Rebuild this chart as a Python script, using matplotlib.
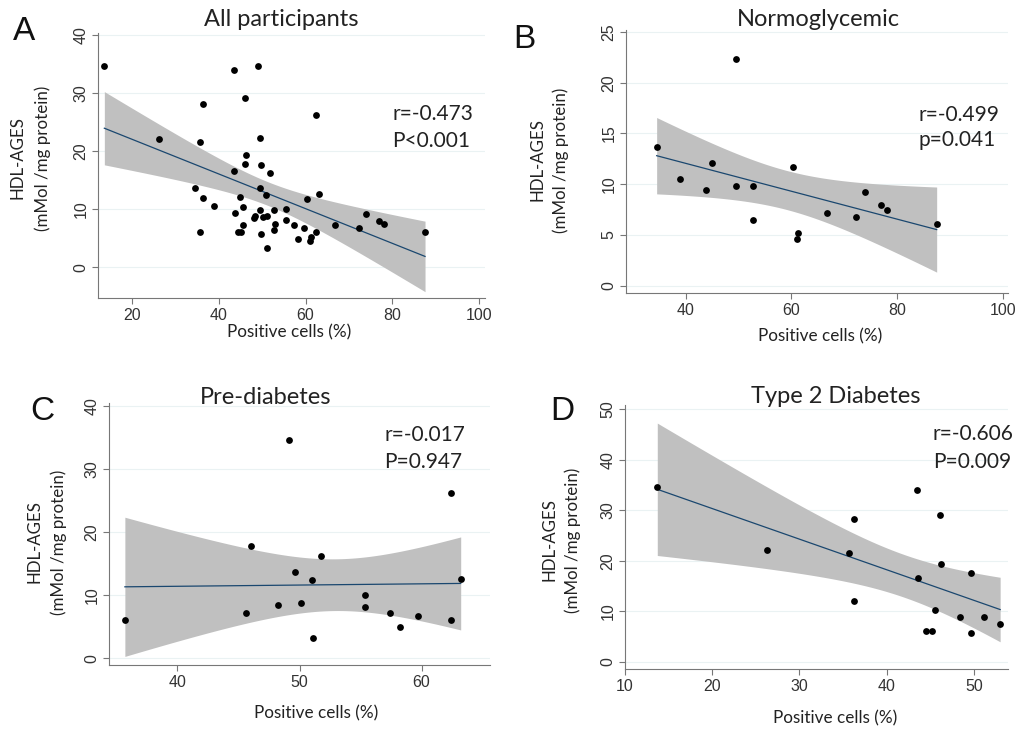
import numpy as np
import matplotlib
matplotlib.use('Agg')
import matplotlib.pyplot as plt

# ---- data (Positive cells %, HDL-AGES) ----
normo_x = [34.5, 39.0, 43.8, 45.0, 49.6, 49.6, 52.8, 52.7, 60.3, 61.3, 61.1,
           66.7, 72.3, 73.9, 76.9, 78.1, 87.5]
normo_y = [13.7, 10.5, 9.4, 12.1, 22.3, 9.8, 9.8, 6.45, 11.7, 5.2, 4.6,
           7.2, 6.75, 9.2, 8.0, 7.5, 6.1]

pre_x = [35.7, 45.6, 46.0, 48.2, 49.1, 49.6, 50.1, 51.0, 51.1, 51.8, 55.4,
         55.4, 57.4, 58.2, 59.7, 62.4, 62.4, 63.2]
pre_y = [6.0, 7.25, 17.8, 8.5, 34.6, 13.7, 8.7, 12.4, 3.3, 16.2, 10.0,
         8.1, 7.25, 4.9, 6.7, 26.2, 6.0, 12.6]

t2d_x = [13.7, 26.3, 35.7, 36.3, 36.3, 43.5, 43.6, 44.5, 45.2, 45.5, 46.1,
         46.2, 48.4, 49.7, 49.7, 51.2, 53.0]
t2d_y = [34.7, 22.1, 21.5, 28.2, 12.0, 34.0, 16.6, 6.1, 6.1, 10.3, 29.1,
         19.3, 8.8, 17.6, 5.7, 8.8, 7.5]

# all participants = the three groups together
all_x = normo_x + pre_x + t2d_x
all_y = normo_y + pre_y + t2d_y

titles = ["All participants", "Normoglycemic", "Pre-diabetes", "Type 2 Diabetes"]
letters = ["A", "B", "C", "D"]
stats = [("r=-0.473", "P<0.001"), ("r=-0.499", "p=0.041"),
         ("r=-0.017", "P=0.947"), ("r=-0.606", "P=0.009")]
yticks = [[0, 10, 20, 30, 40], [0, 5, 10, 15, 20, 25],
          [0, 10, 20, 30, 40], [0, 10, 20, 30, 40, 50]]
xticks = [[20, 40, 60, 80, 100], [40, 60, 80, 100],
          [40, 50, 60], [10, 20, 30, 40, 50]]

W, H = 1021, 732
TXT = ['Lato', 'DejaVu Sans']
TCK = ['Liberation Sans', 'DejaVu Sans']
BAND = '#c0c0c0'
LINE = '#1a476f'


def t975(df):
    # Cornish-Fisher expansion of the t quantile
    z = 1.959964
    g1 = (z**3 + z) / 4
    g2 = (5*z**5 + 16*z**3 + 3*z) / 96
    g3 = (3*z**7 + 19*z**5 + 17*z**3 - 15*z) / 384
    return z + g1/df + g2/df**2 + g3/df**3


def fit_ci(x, y):
    '''
    linear fit with 95% CI of the mean (like Stata lfitci)
    '''
    x = np.asarray(x, float)
    y = np.asarray(y, float)
    n = len(x)
    b, a = np.polyfit(x, y, 1)
    res = y - (a + b*x)
    s = np.sqrt(np.sum(res**2) / (n - 2))
    sxx = np.sum((x - x.mean())**2)
    xs = np.linspace(x.min(), x.max(), 200)
    yh = a + b*xs
    se = s * np.sqrt(1.0/n + (xs - x.mean())**2 / sxx)
    t = t975(n - 2)
    return xs, yh, yh - t*se, yh + t*se


def fig_box(l, r, t, b):
    return [l/W, 1 - b/H, (r - l)/W, (b - t)/H]


def fx(px):
    return px / W


def fy(py):
    return 1 - py / H


fig = plt.figure(figsize=(W/100, H/100), dpi=100)

boxes = [fig_box(98, 485, 33, 298), fig_box(626, 1008, 30, 293),
         fig_box(109, 490, 403, 665), fig_box(625, 1008, 405, 669)]
xlims = [(12.24, 101.3), (28.7, 101.0), (34.4, 65.6), (10.0, 53.9)]
ylims = [(-5.29, 40.34), (-0.72, 25.2), (-1.06, 40.5), (-1.45, 50.85)]
data = [(all_x, all_y), (normo_x, normo_y), (pre_x, pre_y), (t2d_x, t2d_y)]

# pixel positions of the texts around each panel
letter_pos = [(24, 31), (524, 40), (42, 412), (562, 411)]
title_pos = [(281, 20), (818, 19), (266, 397), (836, 396)]
xlab_pos = [(289, 332), (820, 336), (316, 713), (835, 718)]
ylab_pos = [(18, 43, 158), (537, 561, 160), (34, 59, 542), (549, 573, 540)]
stat_pos = [(392, 114, 141), (918, 115, 140), (384, 435, 462), (933, 434, 462)]

for i in range(4):
    ax = fig.add_axes(boxes[i])
    x, y = data[i]

    xs, yh, lo, hi = fit_ci(x, y)
    ax.fill_between(xs, lo, hi, color=BAND, lw=0, zorder=1)
    ax.plot(xs, yh, color=LINE, lw=0.9, zorder=2)
    ax.scatter(x, y, s=24, color='black', lw=0, zorder=3)

    ax.set_xlim(*xlims[i])
    ax.set_ylim(*ylims[i])
    ax.set_xticks(xticks[i])
    ax.set_yticks(yticks[i])
    for yt in yticks[i]:
        ax.axhline(yt, color='#eaf2f3', lw=0.8, zorder=0)

    for sp in ['top', 'right']:
        ax.spines[sp].set_visible(False)
    for sp in ['left', 'bottom']:
        ax.spines[sp].set_color('#777777')
        ax.spines[sp].set_linewidth(0.8)
    ax.tick_params(direction='out', length=4, width=0.8, color='#777777',
                   labelsize=11.5, labelcolor='#333333', pad=3)
    for lab in ax.get_yticklabels():
        lab.set_rotation(90)
        lab.set_va('center')
        lab.set_family(TCK)
    for lab in ax.get_xticklabels():
        lab.set_family(TCK)

    # texts
    lx, ly = letter_pos[i]
    fig.text(fx(lx), fy(ly), letters[i], fontsize=24, family=TCK,
             ha='center', va='center', color='#111111')
    tx, ty = title_pos[i]
    fig.text(fx(tx), fy(ty), titles[i], fontsize=17, family=TXT,
             ha='center', va='center', color='#222222')
    bx, by = xlab_pos[i]
    fig.text(fx(bx), fy(by), "Positive cells (%)", fontsize=12.3, family=TXT,
             ha='center', va='center', color='#222222')
    y1, y2, yc = ylab_pos[i]
    fig.text(fx(y1), fy(yc), "HDL-AGES", fontsize=12.2, family=TXT,
             rotation=90, ha='center', va='center', color='#222222')
    fig.text(fx(y2), fy(yc), "(mMol /mg protein)", fontsize=12.2, family=TXT,
             rotation=90, ha='center', va='center', color='#222222')
    sx, s1, s2 = stat_pos[i]
    fig.text(fx(sx), fy(s1), stats[i][0], fontsize=15, family=TXT,
             ha='left', va='center', color='#222222')
    fig.text(fx(sx), fy(s2), stats[i][1], fontsize=15, family=TXT,
             ha='left', va='center', color='#222222')

plt.savefig('out.png', dpi=100)
